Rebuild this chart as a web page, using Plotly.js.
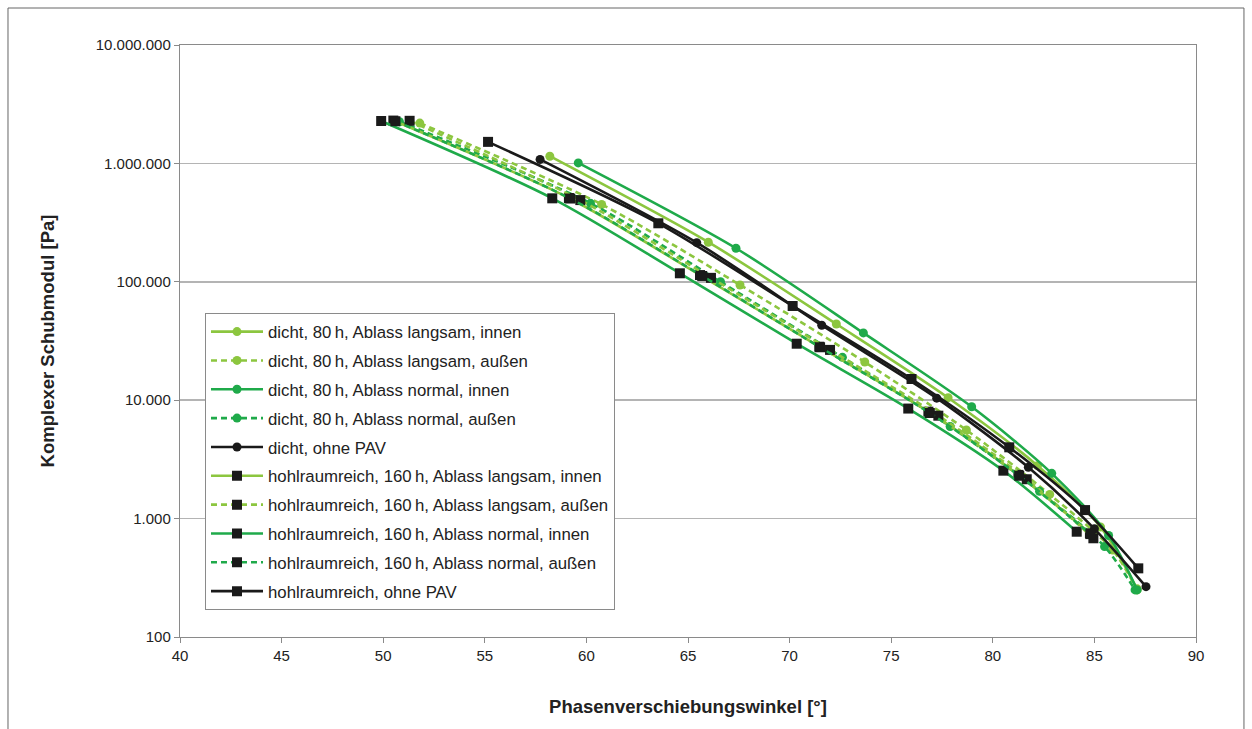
<!DOCTYPE html>
<html>
<head>
<meta charset="utf-8">
<script src="https://cdn.plot.ly/plotly-3.0.1.min.js"></script>
<style>html,body{margin:0;padding:0;background:#fff;}#chart{width:1252px;height:729px;}</style>
</head>
<body>
<div id="chart"></div>
<script>
// ---- Data ----
const seriesNames = [
  "dicht, 80\u2009h, Ablass langsam, innen",
  "dicht, 80\u2009h, Ablass langsam, außen",
  "dicht, 80\u2009h, Ablass normal, innen",
  "dicht, 80\u2009h, Ablass normal, außen",
  "dicht, ohne PAV",
  "hohlraumreich, 160\u2009h, Ablass langsam, innen",
  "hohlraumreich, 160\u2009h, Ablass langsam, außen",
  "hohlraumreich, 160\u2009h, Ablass normal, innen",
  "hohlraumreich, 160\u2009h, Ablass normal, außen",
  "hohlraumreich, ohne PAV"
];

const dichtLangsamInnenX = [58.2, 66.0, 72.3, 77.8, 82.2, 85.3, 87.1];
const dichtLangsamInnenY = [1150000, 216000, 44000, 10500, 2800, 850, 255];

const dichtLangsamAussenX = [51.8, 60.75, 67.56, 73.7, 78.7, 82.8, 85.9, 87.1];
const dichtLangsamAussenY = [2190000, 450000, 94000, 21000, 5600, 1600, 543, 250];

const dichtNormalInnenX = [59.6, 67.36, 73.63, 78.96, 82.9, 85.7, 87.1];
const dichtNormalInnenY = [1010000, 192000, 37000, 8800, 2410, 720, 250];

const dichtNormalAussenX = [50.8, 60.2, 66.6, 72.6, 77.9, 82.3, 85.5, 87.0];
const dichtNormalAussenY = [2250000, 460000, 100000, 23000, 6000, 1700, 580, 250];

const dichtOhneX = [57.72, 65.43, 71.58, 77.24, 81.75, 85.0, 87.54];
const dichtOhneY = [1080000, 214000, 43000, 10400, 2710, 820, 266];

const hohlLangsamInnenX = [50.5, 59.14, 65.59, 71.46, 76.83, 81.26, 84.78];
const hohlLangsamInnenY = [2300000, 510000, 114000, 28300, 8000, 2340, 751];

const hohlLangsamAussenX = [51.3, 59.7, 66.13, 71.99, 77.32, 81.67, 84.95];
const hohlLangsamAussenY = [2290000, 490000, 108000, 26600, 7400, 2150, 682];

const hohlNormalInnenX = [49.9, 58.32, 64.6, 70.35, 75.84, 80.52, 84.13];
const hohlNormalInnenY = [2280000, 507000, 118000, 30000, 8500, 2540, 775];

const hohlNormalAussenX = [50.6, 59.2, 65.7, 71.5, 76.9, 81.3, 84.8];
const hohlNormalAussenY = [2270000, 505000, 112000, 28000, 7800, 2300, 740];

const hohlOhneX = [55.16, 63.54, 70.15, 76.0, 80.81, 84.54, 87.16];
const hohlOhneY = [1520000, 312000, 62500, 15100, 4000, 1180, 380];

const xTickVals = [40, 45, 50, 55, 60, 65, 70, 75, 80, 85, 90];
const yTickVals = [100, 1000, 10000, 100000, 1000000, 10000000];
const yTickText = ["100", "1.000", "10.000", "100.000", "1.000.000", "10.000.000"];

// ---- Styles ----
const LIGHT = "#8cc63f";
const GREEN = "#1faa4a";
const BLACK = "#1a1a1a";
const DASH = "6px,4px";

function tr(name, xs, ys, color, dash, symbol, size) {
  return {
    x: xs, y: ys, name: name, type: "scatter", mode: "lines+markers",
    legendgroup: name,
    line: {color: color, width: 2.6, dash: dash, shape: "spline", smoothing: 0.8},
    marker: {symbol: symbol, size: size, color: symbol === "square" ? BLACK : color,
             line: {width: 0}}
  };
}

const data = [
  tr(seriesNames[0], dichtLangsamInnenX, dichtLangsamInnenY, LIGHT, "solid", "circle", 9),
  tr(seriesNames[1], dichtLangsamAussenX, dichtLangsamAussenY, LIGHT, DASH, "circle", 9),
  tr(seriesNames[2], dichtNormalInnenX, dichtNormalInnenY, GREEN, "solid", "circle", 9),
  tr(seriesNames[3], dichtNormalAussenX, dichtNormalAussenY, GREEN, DASH, "circle", 9),
  tr(seriesNames[4], dichtOhneX, dichtOhneY, BLACK, "solid", "circle", 9),
  tr(seriesNames[5], hohlLangsamInnenX, hohlLangsamInnenY, LIGHT, "solid", "square", 10),
  tr(seriesNames[6], hohlLangsamAussenX, hohlLangsamAussenY, LIGHT, DASH, "square", 10),
  tr(seriesNames[7], hohlNormalInnenX, hohlNormalInnenY, GREEN, "solid", "square", 10),
  tr(seriesNames[8], hohlNormalAussenX, hohlNormalAussenY, GREEN, DASH, "square", 10),
  tr(seriesNames[9], hohlOhneX, hohlOhneY, BLACK, "solid", "square", 10)
];

const font = "Liberation Sans, Arial, sans-serif";

const layout = {
  width: 1252, height: 729,
  margin: {l: 180, r: 56, t: 45, b: 92},
  paper_bgcolor: "#ffffff", plot_bgcolor: "#ffffff",
  font: {family: font, size: 15, color: "#222"},
  showlegend: true,
  legend: {
    x: 0.0246, y: 0.547, xanchor: "left", yanchor: "top",
    bgcolor: "#ffffff", bordercolor: "#8a8a8a", borderwidth: 1,
    font: {family: font, size: 16.8, color: "#222"},
    tracegroupgap: 4, itemwidth: 52
  },
  xaxis: {
    range: [40, 90], tickvals: xTickVals, ticktext: xTickVals.map(String),
    showgrid: false, zeroline: false,
    showline: true, linecolor: "#8a8a8a", linewidth: 1.2, mirror: true,
    ticks: "outside", ticklen: 5, tickcolor: "#8a8a8a",
    tickfont: {family: font, size: 15, color: "#222"},
    title: {text: "<b>Phasenverschiebungswinkel [°]</b>", font: {family: font, size: 18.5, color: "#222"}, standoff: 36}
  },
  yaxis: {
    type: "log", range: [2, 7], tickvals: yTickVals, ticktext: yTickText,
    showgrid: true, gridcolor: "#b4b4b4", gridwidth: 1.5, zeroline: false,
    showline: true, linecolor: "#8a8a8a", linewidth: 1.2, mirror: true,
    ticks: "outside", ticklen: 5, tickcolor: "#8a8a8a",
    tickfont: {family: font, size: 15, color: "#222"},
    title: {text: "<b>Komplexer Schubmodul [Pa]</b>", font: {family: font, size: 18.5, color: "#222"}, standoff: 36}
  },
  shapes: [{
    type: "rect", xref: "paper", yref: "paper",
    x0: -0.1693, x1: 1.0472, y0: -0.25, y1: 1.0625,
    line: {color: "#666", width: 1}, fillcolor: "rgba(0,0,0,0)", layer: "below"
  }]
};

Plotly.newPlot("chart", data, layout, {displayModeBar: false, staticPlot: true});
</script>
</body>
</html>
